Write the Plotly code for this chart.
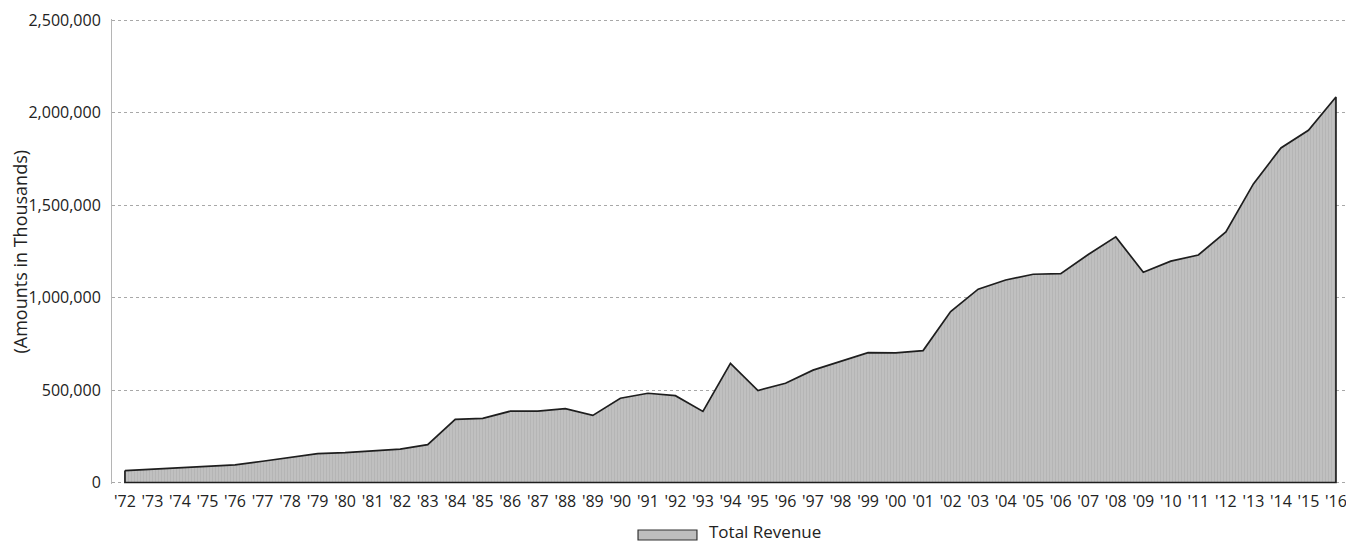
import plotly.graph_objects as go

years = list(range(1972, 2017))
tick_labels = ["'" + str(y)[2:] for y in years]
total_revenue = [
    64500, 72000, 78000, 85000, 95000, 115000, 135000, 156000, 162000, 170000,
    181000, 205000, 342000, 347000, 386000, 386000, 400000, 363000, 456000, 483000,
    470000, 385000, 645000, 498000, 537000, 608000, 657000, 703000, 702000, 714000,
    925000, 1046000, 1096000, 1127000, 1130000, 1234000, 1329000, 1138000, 1198000, 1231000,
    1356000, 1616000, 1810000, 1906000, 2086000,
]
y_ticks = [0, 500000, 1000000, 1500000, 2000000, 2500000]
series_name = "Total Revenue"

# closed polygon: data points, then down to the baseline
poly_x = years + [years[-1], years[0], years[0]]
poly_y = total_revenue + [0, 0, total_revenue[0]]

fill_bg = "#c0c0c0"
fill_fg = "#a9a9a9"
line_col = "#1e1e1e"

fig = go.Figure()
fig.add_trace(go.Scatter(
    x=poly_x, y=poly_y, mode="lines", fill="toself",
    fillcolor=fill_bg,
    fillpattern=dict(shape="|", fgcolor=fill_fg, bgcolor=fill_bg, size=3, solidity=0.3),
    line=dict(color=line_col, width=1.7),
    name=series_name, showlegend=False, hoverinfo="skip",
))

font_main = "Open Sans, Noto Sans, DejaVu Sans, sans-serif"

# legend drawn as swatch + text below the plot
fig.add_shape(type="rect", xref="paper", yref="paper",
              x0=0.4249, x1=0.4725, y0=-0.1204, y1=-0.0989,
              fillcolor="#bdbdbd", line=dict(color="#333333", width=1.2))

# the page body adds an 8px offset, so the figure is sized to fit the window
fig.update_layout(
    width=1346, height=535,
    margin=dict(l=104, r=4, t=11, b=59),
    paper_bgcolor="white", plot_bgcolor="white",
    font=dict(family=font_main, color="#222222"),
    showlegend=False,
    xaxis=dict(
        range=[1971.53, 2016.51], tickmode="array", tickvals=years, ticktext=tick_labels,
        showgrid=False, zeroline=False, showline=False, automargin=False,
        ticks="outside", ticklen=3, tickcolor="rgba(0,0,0,0)",
        tickfont=dict(size=16, family=font_main, color="#222222"),
    ),
    yaxis=dict(
        range=[-8000, 2508000], tickmode="array", tickvals=y_ticks, tickformat=",d",
        showgrid=True, gridcolor="#a8a8a8", gridwidth=1, griddash="dot",
        zeroline=False, showline=True, linecolor="#b5b5b5", linewidth=1, automargin=False,
        ticks="outside", ticklen=7, tickcolor="rgba(0,0,0,0)",
        tickfont=dict(size=16, family=font_main, color="#222222"),
    ),
    annotations=[
        dict(text="(Amounts in Thousands)", textangle=-90, xref="paper", yref="paper",
             x=0, y=0.5, xshift=-93, xanchor="center", yanchor="middle", showarrow=False,
             font=dict(size=18, family=font_main, color="#222222")),
        dict(text=series_name, xref="paper", yref="paper",
             x=0.4806, y=-0.1032, xanchor="left", yanchor="middle", showarrow=False,
             font=dict(size=17, family=font_main, color="#222222")),
    ],
)

fig.write_html("out.html")
